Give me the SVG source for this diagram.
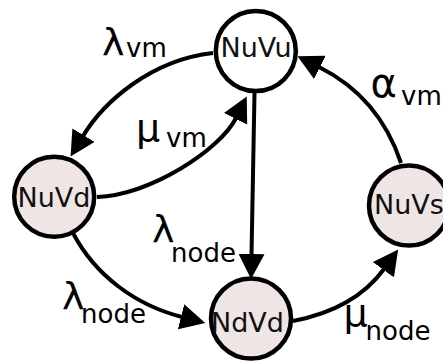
<svg xmlns="http://www.w3.org/2000/svg" width="443" height="362" viewBox="0 0 443 362">
<style>
.node circle{stroke:#000;stroke-width:4.5}
.plain{fill:#fff}
.tinted{fill:#f0e5e5}
.nl{font-family:"DejaVu Sans",sans-serif;font-size:27px;fill:#111;text-anchor:middle}
.edge{fill:none;stroke:#000;stroke-width:4}
.g{font-family:"DejaVu Sans",sans-serif;font-size:38px;fill:#000}
.s{font-family:"DejaVu Sans",sans-serif;font-size:26px;fill:#000}
</style>
<defs>
<marker id="ah" viewBox="0 0 25 26" refX="1" refY="13" markerWidth="25" markerHeight="26" markerUnits="userSpaceOnUse" orient="auto">
<path d="M0,0 L25,13 L0,26 z" fill="#000"/>
</marker>
</defs>
<g id="connectors">
<path class="edge" d="M213,53 C150,60 103,103 83,136" marker-end="url(#ah)"/>
<path class="edge" d="M97,197 C150,195 220,150 236,118" marker-end="url(#ah)"/>
<path class="edge" d="M254.5,93 L251.5,255" marker-end="url(#ah)"/>
<path class="edge" d="M73,233 C95,275 135,305 182,317" marker-end="url(#ah)"/>
<path class="edge" d="M293,321 C335,313 365,295 384,269" marker-end="url(#ah)"/>
<path class="edge" d="M401,163 C385,115 355,85 319,67" marker-end="url(#ah)"/>
</g>
<g id="labels">
<text class="g" x="102" y="55">λ</text><text class="s" x="126" y="57">vm</text>
<text class="g" x="136" y="141">μ</text><text class="s" x="166" y="147">vm</text>
<text class="g" x="152" y="242">λ</text><text class="s" x="171" y="262">node</text>
<text class="g" x="62" y="309">λ</text><text class="s" x="81" y="323">node</text>
<text class="g" x="343.5" y="326">μ</text><text class="s" x="365.6" y="340">node</text>
<text class="g" x="370.5" y="97" style="font-size:40px">α</text><text class="s" x="401" y="105">vm</text>
</g>
<g id="NuVu" class="node"><circle class="plain" cx="255.8" cy="51" r="40"/><text class="nl" x="256" y="57">NuVu</text></g>
<g id="NuVd" class="node"><circle class="tinted" cx="54.2" cy="196.7" r="40"/><text class="nl" x="54" y="207">NuVd</text></g>
<g id="NdVd" class="node"><circle class="tinted" cx="251" cy="318.5" r="40"/><text class="nl" x="247.5" y="332">NdVd</text></g>
<g id="NuVs" class="node"><circle class="tinted" cx="409" cy="205.5" r="40"/><text class="nl" x="409" y="214">NuVs</text></g>
</svg>
